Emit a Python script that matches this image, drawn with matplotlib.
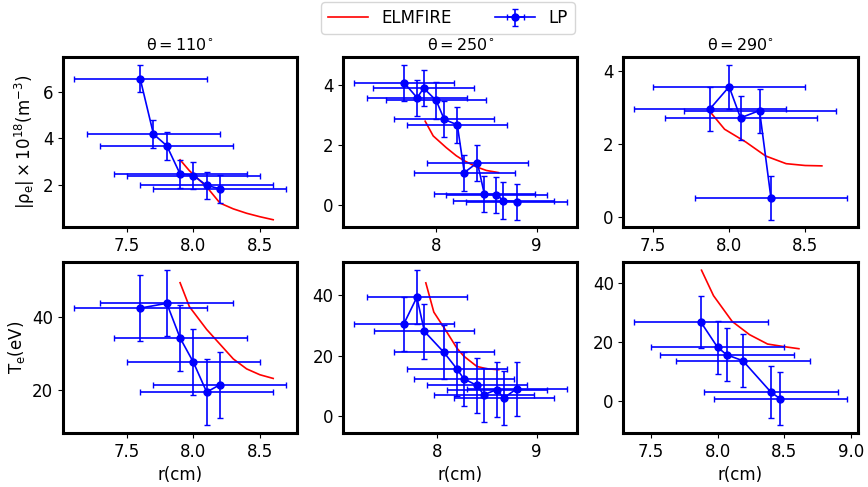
import matplotlib
matplotlib.use("Agg")
import matplotlib.pyplot as plt
import numpy as np

plt.rcParams['mathtext.default'] = 'regular'
plt.rcParams['font.size'] = 12

titles = [r'$\theta=110^{\circ}$', r'$\theta=250^{\circ}$', r'$\theta=290^{\circ}$']

# --- LP data: density (top row) ---
r_n110 = [7.6, 7.7, 7.8, 7.9, 8.0, 8.1, 8.2]
n_110 = [6.58, 4.18, 3.68, 2.46, 2.39, 1.96, 1.82]
r_n250 = [7.68, 7.81, 7.875, 8.0, 8.08, 8.21, 8.28, 8.41, 8.48, 8.60, 8.67, 8.80]
n_250 = [4.06, 3.56, 3.88, 3.47, 2.84, 2.66, 1.07, 1.40, 0.35, 0.33, 0.14, 0.10]
r_n290 = [7.875, 8.0, 8.075, 8.2, 8.275]
n_290 = [2.96, 3.56, 2.71, 2.91, 0.53]
n_yerr = 0.6

# --- LP data: temperature (bottom row) ---
r_t110 = [7.6, 7.8, 7.9, 8.0, 8.1, 8.2]
t_110 = [42.3, 43.6, 34.2, 27.6, 19.5, 21.5]
r_t250 = [7.67, 7.80, 7.876, 8.07, 8.20, 8.27, 8.40, 8.47, 8.60, 8.67, 8.80]
t_250 = [30.5, 39.3, 28.0, 21.1, 15.6, 12.3, 10.1, 7.0, 8.7, 5.9, 9.0]
r_t290 = [7.875, 8.0, 8.07, 8.19, 8.40, 8.47]
t_290 = [26.8, 18.2, 15.6, 13.6, 2.9, 0.6]
t_yerr = 9.0

r_xerr = 0.5

# --- ELMFIRE simulation curves ---
rs_110 = [7.9, 7.97, 8.1, 8.2, 8.3, 8.4, 8.5, 8.6]
ns_110 = [3.07, 2.6, 1.9, 1.2, 0.95, 0.76, 0.61, 0.48]
ts_110 = [49.2, 42.7, 36.5, 32.5, 28.5, 25.8, 24.2, 23.2]

rs_250 = [7.89, 7.97, 8.1, 8.2, 8.27, 8.4, 8.5, 8.62]
ns_250 = [2.78, 2.29, 1.9, 1.63, 1.48, 1.26, 1.14, 1.07]
ts_250 = [44.1, 34.4, 27.8, 22.5, 19.8, 16.4, 15.6, 15.3]

rs_290 = [7.88, 7.97, 8.11, 8.24, 8.375, 8.5, 8.61]
ns_290 = [2.85, 2.40, 2.05, 1.67, 1.46, 1.41, 1.40]
ts_290 = [44.5, 35.8, 27.0, 22.5, 19.3, 18.4, 17.7]

top_yticks = [[2, 4, 6], [0, 2, 4], [0, 2, 4]]
bot_yticks = [[20, 40], [0, 20, 40], [0, 20, 40]]

top_data = [(r_n110, n_110, rs_110, ns_110), (r_n250, n_250, rs_250, ns_250), (r_n290, n_290, rs_290, ns_290)]
bot_data = [(r_t110, t_110, rs_110, ts_110), (r_t250, t_250, rs_250, ts_250), (r_t290, t_290, rs_290, ts_290)]

fig, axes = plt.subplots(2, 3, figsize=(8.68, 4.87), dpi=100)
fig.subplots_adjust(left=0.0726, right=0.988, top=0.883, bottom=0.111, wspace=0.197, hspace=0.205)

for j in range(3):
    for i, (data, yerr) in enumerate([(top_data[j], n_yerr), (bot_data[j], t_yerr)]):
        ax = axes[i, j]
        r, v, rs, vs = data
        ax.plot(rs, vs, color='r', lw=1.2, label='ELMFIRE')
        ax.errorbar(r, v, xerr=r_xerr, yerr=yerr, fmt='o-', color='b', ms=5,
                    lw=1.2, elinewidth=1.2, capsize=2, label='LP')
        for s in ax.spines.values():
            s.set_linewidth(2.2)
        ax.tick_params(labelsize=12)
        if i == 0:
            ax.set_title(titles[j], fontsize=11.5, pad=5)
            ax.set_yticks(top_yticks[j])
        else:
            ax.set_xlabel('r(cm)', fontsize=12)
            ax.set_yticks(bot_yticks[j])

axes[0, 1].set_xticks([8, 9])
axes[1, 1].set_xticks([8, 9])
axes[0, 0].set_ylabel(r'$|\rho_e| \times 10^{18}(m^{-3})$', fontsize=12)
axes[1, 0].set_ylabel(r'$T_e(eV)$', fontsize=12)

handles, labels = axes[0, 0].get_legend_handles_labels()
fig.legend(handles, labels, loc='upper center', bbox_to_anchor=(448 / 868, 1.012), ncol=2,
           fontsize=12, handlelength=2.4, columnspacing=2.6)

fig.savefig('out.png', dpi=100)
